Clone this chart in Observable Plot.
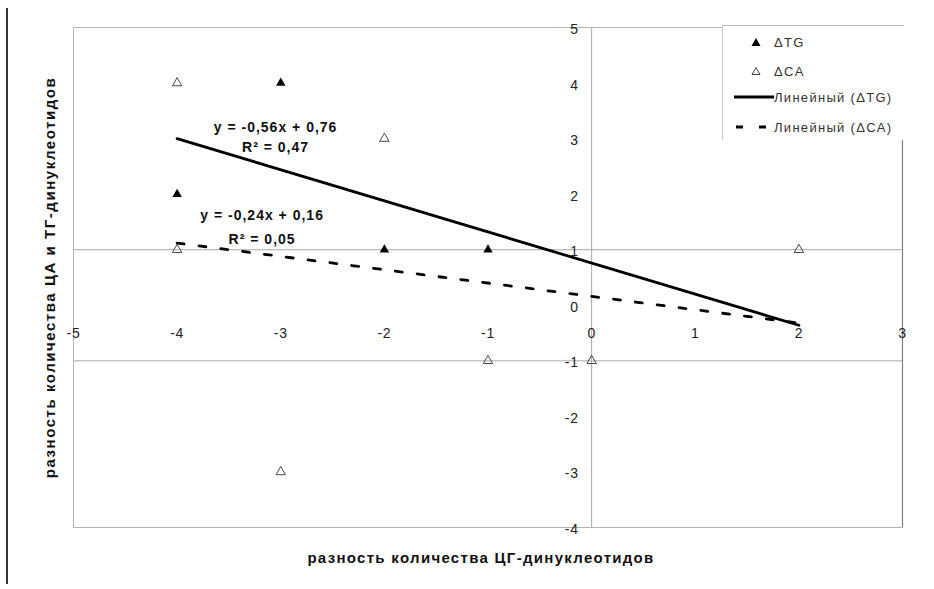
<!DOCTYPE html>
<html><head><meta charset="utf-8">
<script src="https://cdn.jsdelivr.net/npm/d3@7"></script>
<script src="https://cdn.jsdelivr.net/npm/@observablehq/plot@0.6"></script>
<style>
body{margin:0;background:#fff;}
#wrap{position:relative;width:934px;height:589px;font-family:"Liberation Sans",Arial,sans-serif;background:#fff;overflow:hidden;}
#wrap svg text{letter-spacing:0.7px;}
#wrap svg g.eq text{letter-spacing:1px;}
#wrap svg g.title text{letter-spacing:1.3px;}
#wrap svg g.ytitle text{letter-spacing:1.55px;}
#border{position:absolute;left:6px;top:8px;width:2px;height:576px;background:#333;}
#legend{position:absolute;left:722px;top:25px;width:181px;height:114px;background:#fff;border-top:1px solid #bbb;border-left:1px solid #c4c4c4;}
.row{position:absolute;left:0;height:16px;display:flex;align-items:center;}
.row svg{width:51px;height:16px;flex:none;}
.row span{font-size:13px;color:#333;letter-spacing:1.3px;white-space:nowrap;}
</style></head>
<body>
<div id="wrap"><div id="chart"></div><div id="border"></div><div id="legend"></div></div>
<script>
// ---- data ----
const xTicks = [-5, -4, -3, -2, -1, 0, 1, 2, 3];
const yTicks = [-4, -3, -2, -1, 0, 1, 2, 3, 4, 5];
const gridY = [1, -1];
const seriesNames = ["ΔTG", "ΔCA", "Линейный (ΔTG)", "Линейный (ΔCA)"];
const tgX = [-4, -3, -2, -1];
const tgY = [2, 4, 1, 1];
const caX = [-4, -4, -2, -3, -1, 0, 2];
const caY = [4, 1, 3, -3, -1, -1, 1];
const trendTG = {slope: -0.56, intercept: 0.76, from: -4, to: 2};
const trendCA = {slope: -0.24, intercept: 0.16, from: -4, to: 2};
const eqTG = ["y = -0,56x + 0,76", "R² = 0,47"];
const eqCA = ["y = -0,24x + 0,16", "R² = 0,05"];
const xTitle = "разность количества ЦГ-динуклеотидов";
const yTitle = "разность количества ЦА и ТГ-динуклеотидов";

const tg = tgX.map((x, i) => ({x, y: tgY[i]}));
const ca = caX.map((x, i) => ({x, y: caY[i]}));
const lineOf = t => [t.from, t.to].map(x => ({x, y: t.slope * x + t.intercept}));
const at = (t, x) => t.slope * x + t.intercept;

const eqStyle = {text: d => d, fontWeight: "bold", fontSize: 14, fill: "#111", className: "eq"};
const titleStyle = {text: d => d, fontWeight: "bold", fontSize: 15, fill: "#111"};

const chart = Plot.plot({
  width: 934, height: 589,
  marginLeft: 73, marginRight: 32, marginTop: 27, marginBottom: 62,
  x: {domain: [-5, 3], axis: null},
  y: {domain: [-4, 5], axis: null},
  style: {fontFamily: "Liberation Sans, Arial, sans-serif", fontSize: "14px", background: "white", color: "black", overflow: "visible"},
  marks: [
    Plot.ruleY(gridY, {stroke: "#a8a8a8", strokeWidth: 1}),
    Plot.ruleX([0], {stroke: "#a8a8a8", strokeWidth: 1}),
    Plot.frame({stroke: "#b4b4b4", strokeWidth: 1}),
    Plot.ruleX([3], {stroke: "#808080", strokeWidth: 1.2}),
    Plot.text(xTicks, {x: d => d, y: 0, dy: 28, text: d => String(d), fill: "#222", fontSize: 14}),
    Plot.text(yTicks, {x: 0, y: d => d, dx: -13, dy: 2, textAnchor: "end", text: d => String(d), fill: "#222", fontSize: 14}),
    Plot.line(lineOf(trendTG), {x: "x", y: "y", stroke: "black", strokeWidth: 2.8}),
    Plot.line(lineOf(trendCA), {x: "x", y: "y", stroke: "black", strokeWidth: 2.8, strokeDasharray: "7,15"}),
    Plot.dot(tg, {x: "x", y: "y", symbol: "triangle", r: 3.5, fill: "black", stroke: "none"}),
    Plot.dot(ca, {x: "x", y: "y", symbol: "triangle", r: 3.5, fill: "none", stroke: "#333", strokeWidth: 0.9}),
    Plot.text([eqTG[0]], {x: -3.05, y: at(trendTG, -3.05), dy: -41, ...eqStyle}),
    Plot.text([eqTG[1]], {x: -3.05, y: at(trendTG, -3.05), dy: -21, ...eqStyle}),
    Plot.text([eqCA[0]], {x: -3.18, y: at(trendCA, -3.18), dy: -38, ...eqStyle}),
    Plot.text([eqCA[1]], {x: -3.18, y: at(trendCA, -3.18), dy: -14, ...eqStyle}),
    Plot.text([xTitle], {frameAnchor: "bottom", dy: 35, dx: -7, className: "title", ...titleStyle}),
    Plot.text([yTitle], {frameAnchor: "left", dx: -23, rotate: -90, textAnchor: "middle", className: "ytitle", ...titleStyle})
  ]
});
document.getElementById("chart").appendChild(chart);

// ---- legend ----
const icons = [
  '<path d="M33,4 L37.5,12 L28.5,12 Z" fill="black"/>',
  '<path d="M33,4.5 L37,11.5 L29,11.5 Z" fill="none" stroke="#333" stroke-width="0.9"/>',
  '<line x1="11" y1="8" x2="51" y2="8" stroke="black" stroke-width="2.8"/>',
  '<line x1="13" y1="8" x2="44" y2="8" stroke="black" stroke-width="2.8" stroke-dasharray="7,16"/>'
];
const rowY = [16, 45, 71, 101];
const legend = document.getElementById("legend");
seriesNames.forEach((name, i) => {
  const row = document.createElement("div");
  row.className = "row";
  row.style.top = (rowY[i] - 8) + "px";
  row.innerHTML = `<svg viewBox="0 0 51 16">${icons[i]}</svg><span>${name}</span>`;
  legend.appendChild(row);
});
</script>
</body></html>
